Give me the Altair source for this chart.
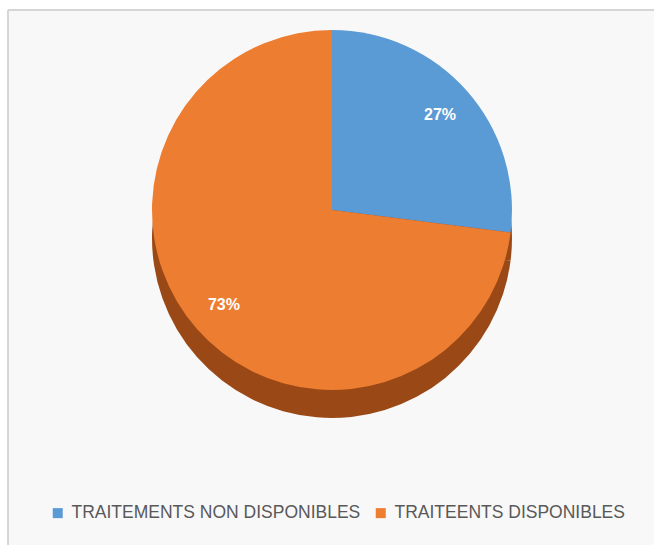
import altair as alt
import pandas as pd

# Data
categories = ["TRAITEMENTS NON DISPONIBLES", "TRAITEENTS DISPONIBLES"]
values = [27, 73]
labels = ["27%", "73%"]
colors = ["#5B9BD5", "#ED7D31"]
ranks = [0, 1]

df = pd.DataFrame({
    "categorie": categories,
    "valeur": values,
    "etiquette": labels,
    "rang": ranks,
})

W, H = 646, 535
CX, CY, R, DEPTH = 324, 200, 180, 28

base = alt.Chart(df)
theta = alt.Theta("valeur:Q", stack=True)
order = alt.Order("rang:Q", sort="ascending")

# frame lines (top and left only, as in the reference)
frame_top = base.mark_rule(color="#D6D6D6", strokeWidth=2).encode(
    x=alt.value(0), x2=alt.value(W), y=alt.value(0)
)
frame_left = base.mark_rule(color="#D6D6D6", strokeWidth=2).encode(
    x=alt.value(0), y=alt.value(0), y2=alt.value(H)
)

side = base.mark_arc(radius=R, color="#9A4916").encode(
    theta=theta, order=order,
    x=alt.value(CX), y=alt.value(CY + DEPTH),
)

top = base.mark_arc(radius=R).encode(
    theta=theta, order=order,
    x=alt.value(CX), y=alt.value(CY),
    color=alt.Color(
        "categorie:N",
        scale=alt.Scale(domain=categories, range=colors),
        legend=alt.Legend(
            title=None, orient="none", legendX=41, legendY=494,
            direction="horizontal", symbolType="square", symbolSize=100,
            symbolStrokeWidth=0, labelFontSize=17.5, labelColor="#595959",
            labelFont="Liberation Sans", columnPadding=11, labelOffset=5,
            labelLimit=500, padding=0,
        ),
    ),
)

text = base.mark_text(
    radius=R * 0.8, font="Liberation Sans", fontSize=16,
    fontWeight="bold", color="white",
).encode(
    theta=theta, order=order,
    x=alt.value(CX), y=alt.value(CY),
    text="etiquette:N",
)

chart = alt.layer(frame_top, frame_left, side, top, text).properties(
    width=W, height=H,
    padding={"left": 8, "top": 10, "right": 0, "bottom": 0},
    autosize=alt.AutoSizeParams(type="none"),
    background="white",
).configure_view(fill="#F8F8F8", stroke=None)

chart.save("out.html", embed_options={"renderer": "svg", "actions": False})
